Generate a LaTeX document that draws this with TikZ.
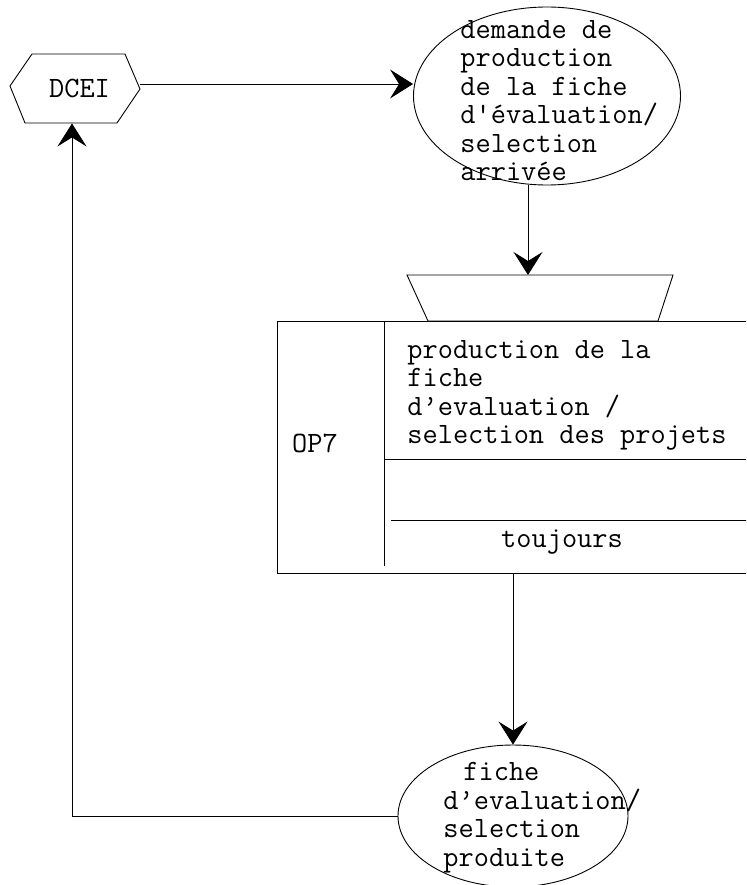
\documentclass[tikz,border=0pt]{standalone}
\usepackage{fontspec}
\usetikzlibrary{shapes.geometric,arrows.meta}
\begin{document}
\begin{tikzpicture}[x=1pt,y=-1pt, line width=0.9pt,
  txt/.style={inner sep=0pt, font=\ttfamily\fontsize{29.5}{28.5}\selectfont, align=left},
  arr/.style={-{Stealth[length=23pt,width=29pt,inset=9pt]}},
  oval/.style={draw, ellipse, inner sep=0pt}]
\useasboundingbox (0,0) rectangle (746,885);
\clip (0,0) rectangle (746,885);
% DCEI hexagon
\node[txt, minimum width=130pt, minimum height=69pt] (dcei) at (75,88.5) {\hspace*{9pt}DCEI};
\coordinate (ha) at (10,86);
\coordinate (hb) at (32,54);
\coordinate (hc) at (125,54);
\coordinate (hd) at (140,89);
\coordinate (he) at (117,123);
\coordinate (hf) at (25,123);
\draw (ha) -- (hb) -- (hc) -- (hd) -- (he) -- (hf) -- cycle;
\coordinate (din) at ([xshift=-3pt]dcei.south);
% ellipse 1
\node[oval, minimum width=267pt, minimum height=178pt] (e1) at (547,96) {};
\node[txt, anchor=north west] (t1) at (460,20) {demande de\\production\\de la fiche\\d\textquotesingle évaluation/\\selection\\arrivée};
% trapezium
\coordinate (tra) at (407,275);
\coordinate (trb) at (673,275);
\coordinate (trc) at (658,321);
\coordinate (trd) at (428,321);
\coordinate (trap) at (528,275);
\draw (tra) -- (trb) -- (trc) -- (trd) -- cycle;
% box
\node[draw, rectangle, minimum width=483pt, minimum height=252pt, inner sep=0pt] (op) at (518.5,447) {};
\coordinate (vtop) at (384,321);
\coordinate (vbot) at (384,566);
\draw (vtop) -- (vbot);
\coordinate (h1l) at (384,459);
\coordinate (h1r) at (760,459);
\coordinate (h2l) at (391,520);
\coordinate (h2r) at (760,520);
\draw (h1l) -- (h1r);
\draw (h2l) -- (h2r);
\node[txt] (op7) at (315,443) {OP7};
\node[txt, anchor=north west] (t2) at (407,340) {production de la\\fiche\\d’evaluation /\\selection des projets};
\node[txt] (tj) at (562,542) {toujours};
% ellipse 2
\node[oval, minimum width=230pt, minimum height=142pt] (e2) at (513,816) {};
\node[txt, anchor=north west] (t3) at (443,762) {\hspace*{20pt}fiche\\d’evaluation/\\selection\\produite};
% connectors
\draw[arr] ([yshift=4.5pt]dcei.east) -- (e1.west |- 0,84);
\draw[arr] ([xshift=-19pt]e1.south) -- (trap);
\draw[arr] (e2.north |- op.south) -- (e2.north);
\draw[arr] (e2.west) -- (e2.west -| din) -- (din);
\end{tikzpicture}
\end{document}
